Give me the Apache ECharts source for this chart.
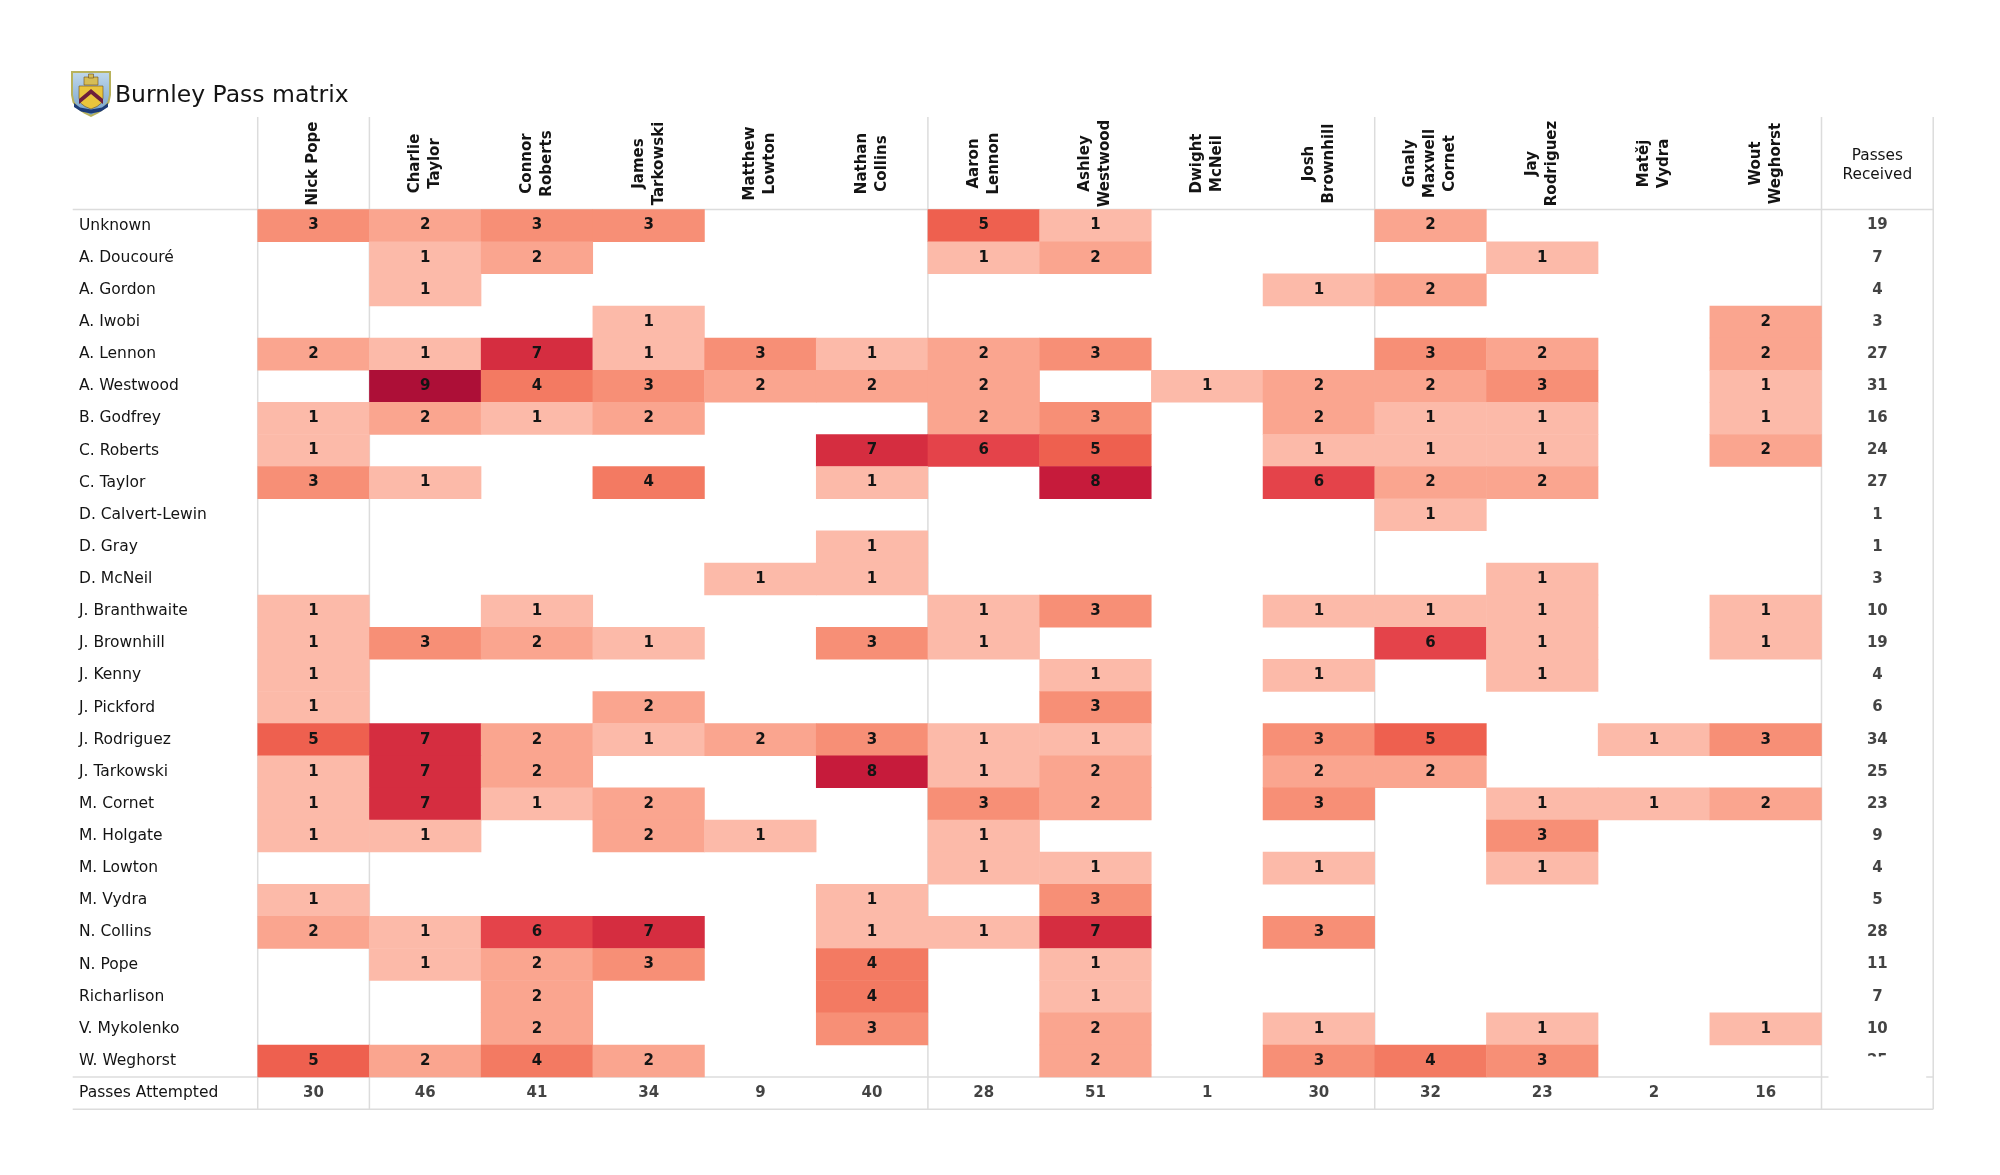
<!DOCTYPE html>
<html>
<head>
<meta charset="utf-8">
<script src="https://cdn.jsdelivr.net/npm/echarts@6/dist/echarts.min.js"></script>
<style>
html,body{margin:0;padding:0;background:#fff;}
#chart{width:2000px;height:1175px;}
</style>
</head>
<body>
<div id="chart"></div>
<script>
// ---------- data ----------
const receivers = ['Nick Pope','Charlie\nTaylor','Connor\nRoberts','James\nTarkowski','Matthew\nLowton','Nathan\nCollins','Aaron\nLennon','Ashley\nWestwood','Dwight\nMcNeil','Josh\nBrownhill','Gnaly\nMaxwell\nCornet','Jay\nRodriguez','Matěj\nVydra','Wout\nWeghorst'];
const receivedHeader = 'Passes\nReceived';
const passers = ['Unknown','A. Doucouré','A. Gordon','A. Iwobi','A. Lennon','A. Westwood','B. Godfrey','C. Roberts','C. Taylor','D. Calvert-Lewin','D. Gray','D. McNeil','J. Branthwaite','J. Brownhill','J. Kenny','J. Pickford','J. Rodriguez','J. Tarkowski','M. Cornet','M. Holgate','M. Lowton','M. Vydra','N. Collins','N. Pope','Richarlison','V. Mykolenko','W. Weghorst'];
const attemptedLabel = 'Passes Attempted';
// rows = passers, columns = receivers
const passCounts = [
  [3,2,3,3,0,0,5,1,0,0,2,0,0,0],
  [0,1,2,0,0,0,1,2,0,0,0,1,0,0],
  [0,1,0,0,0,0,0,0,0,1,2,0,0,0],
  [0,0,0,1,0,0,0,0,0,0,0,0,0,2],
  [2,1,7,1,3,1,2,3,0,0,3,2,0,2],
  [0,9,4,3,2,2,2,0,1,2,2,3,0,1],
  [1,2,1,2,0,0,2,3,0,2,1,1,0,1],
  [1,0,0,0,0,7,6,5,0,1,1,1,0,2],
  [3,1,0,4,0,1,0,8,0,6,2,2,0,0],
  [0,0,0,0,0,0,0,0,0,0,1,0,0,0],
  [0,0,0,0,0,1,0,0,0,0,0,0,0,0],
  [0,0,0,0,1,1,0,0,0,0,0,1,0,0],
  [1,0,1,0,0,0,1,3,0,1,1,1,0,1],
  [1,3,2,1,0,3,1,0,0,0,6,1,0,1],
  [1,0,0,0,0,0,0,1,0,1,0,1,0,0],
  [1,0,0,2,0,0,0,3,0,0,0,0,0,0],
  [5,7,2,1,2,3,1,1,0,3,5,0,1,3],
  [1,7,2,0,0,8,1,2,0,2,2,0,0,0],
  [1,7,1,2,0,0,3,2,0,3,0,1,1,2],
  [1,1,0,2,1,0,1,0,0,0,0,3,0,0],
  [0,0,0,0,0,0,1,1,0,1,0,1,0,0],
  [1,0,0,0,0,1,0,3,0,0,0,0,0,0],
  [2,1,6,7,0,1,1,7,0,3,0,0,0,0],
  [0,1,2,3,0,4,0,1,0,0,0,0,0,0],
  [0,0,2,0,0,4,0,1,0,0,0,0,0,0],
  [0,0,2,0,0,3,0,2,0,1,0,1,0,1],
  [5,2,4,2,0,0,0,2,0,3,4,3,0,0]
];
const passesReceived = [19,7,4,3,27,31,16,24,27,1,1,3,10,19,4,6,34,25,23,9,4,5,28,11,7,10,25];
const passesAttempted = [30,46,41,34,9,40,28,51,1,30,32,23,2,16];
const valueColors = ['#fcbaa9','#faa58f','#f78f76','#f37a62','#ee604f','#e4434a','#d52d40','#c61b3b','#ad0f37'];

// ---------- layout / style ----------
const FONT = 'DejaVu Sans';
const TEXT = '#141414';
const LINE = '#dcdcdc';
const GRID_LEFT = 257.7, GRID_TOP = 209.5, COL_W = 111.7, ROW_H = 32.13;
const HEADER_H = 92.5, LABEL_W = 185;
const V_BOUNDS = [0, 1, 6, 10, 14, 15];
const H_BOUNDS = [0, 27, 28];

const xCats = receivers.concat([receivedHeader]);
const yCats = passers.concat([attemptedLabel]);
const nCols = xCats.length, nRows = yCats.length;

const cellData = [];
passCounts.forEach((row, r) => row.forEach((v, c) => { if (v > 0) cellData.push([c, r, v]); }));
const totalData = [];
passesReceived.forEach((v, r) => totalData.push([receivers.length, r, v]));
passesAttempted.forEach((v, c) => totalData.push([c, passers.length, v]));

const chart = echarts.init(document.getElementById('chart'), null, {renderer: 'canvas'});
chart.setOption({
  backgroundColor: '#ffffff',
  animation: false,
  title: {
    text: 'Burnley Pass matrix', left: 115, top: 84, padding: 0,
    textStyle: {fontFamily: FONT, fontSize: 23.5, fontWeight: 'normal', color: TEXT}
  },
  grid: {left: GRID_LEFT, top: GRID_TOP, width: COL_W * nCols, height: ROW_H * nRows, containLabel: false, outerBoundsMode: 'none', show: false},
  xAxis: [{
    type: 'category', data: xCats, position: 'top', offset: 0,
    axisLine: {show: false}, axisTick: {show: false}, splitLine: {show: false},
    axisLabel: {
      interval: 0, rotate: -90, margin: 46, align: 'center', verticalAlign: 'middle',
      fontFamily: FONT, fontSize: 15, fontWeight: 'bold', color: TEXT, lineHeight: 20,
      formatter: v => (v === receivedHeader ? '' : v)
    }
  }, {
    type: 'category', data: xCats, position: 'top', offset: 0, gridIndex: 0,
    axisLine: {show: false}, axisTick: {show: false}, splitLine: {show: false},
    axisLabel: {
      interval: 0, rotate: 0, margin: 44, align: 'center', verticalAlign: 'middle',
      fontFamily: FONT, fontSize: 15.3, fontWeight: 'normal', color: TEXT, lineHeight: 19.5,
      formatter: v => (v === receivedHeader ? v : '')
    }
  }],
  yAxis: {
    type: 'category', data: yCats, inverse: true,
    axisLine: {show: false}, axisTick: {show: false}, splitLine: {show: false},
    axisLabel: {
      interval: 0, margin: GRID_LEFT - 79, align: 'left', verticalAlign: 'middle',
      fontFamily: FONT, fontSize: 15.5, color: TEXT
    }
  },
  visualMap: {
    type: 'piecewise', show: false, dimension: 2, seriesIndex: 1,
    pieces: valueColors.map((c, i) => ({value: i + 1, color: c}))
  },
  graphic: [{
    type: 'group', x: 70, y: 70, z: 100,
    children: [
      {type: 'polygon', shape: {points: [[2,2],[40,2],[40,25],[38.5,32],[34,38],[28,42.5],[21,46],[14,42.5],[8,38],[3.5,32],[2,25]]},
        style: {fill: {type: 'linear', x: 0, y: 0, x2: 0, y2: 1, colorStops: [{offset: 0, color: '#c2d9ec'}, {offset: 1, color: '#6f9fc9'}]}, stroke: '#b8b25c', lineWidth: 2}},
      {type: 'rect', shape: {x: 14, y: 7, width: 14, height: 8}, style: {fill: '#d6bd55', stroke: '#6b4d1f', lineWidth: 0.6}},
      {type: 'rect', shape: {x: 18.5, y: 4, width: 5, height: 4}, style: {fill: '#d6bd55', stroke: '#6b4d1f', lineWidth: 0.6}},
      {type: 'polygon', shape: {points: [[9,16],[33,16],[33,28],[31.5,33],[27,36.5],[21,39],[15,36.5],[10.5,33],[9,28]]}, style: {fill: '#eac53c', stroke: '#6b4d1f', lineWidth: 0.6}},
      {type: 'polygon', shape: {points: [[9,29],[21,19],[33,29],[33,34],[21,24],[9,34]]}, style: {fill: '#6e1e3c'}},
      {type: 'polygon', shape: {points: [[4,33],[10,37.5],[21,39.5],[32,37.5],[38,33],[38,37],[31,41.5],[21,43.5],[11,41.5],[4,37]]}, style: {fill: '#1d3c78'}}
    ]
  }],
  series: [{
    type: 'custom', name: 'rules', coordinateSystem: 'cartesian2d', z: 1, silent: true, clip: false,
    data: [[0, 0]],
    renderItem: (params, api) => {
      const cell = api.size([1, 1]);
      const first = api.coord([0, 0]);
      const left = first[0] - cell[0] / 2, top = first[1] - cell[1] / 2;
      const children = [];
      V_BOUNDS.forEach(b => {
        const x = left + b * cell[0];
        children.push({type: 'line', shape: {x1: x, y1: top - HEADER_H, x2: x, y2: top + nRows * cell[1]}, style: {stroke: LINE, lineWidth: 1.5}});
      });
      H_BOUNDS.forEach(b => {
        const y = top + b * cell[1];
        children.push({type: 'line', shape: {x1: left - LABEL_W, y1: y, x2: left + nCols * cell[0], y2: y}, style: {stroke: LINE, lineWidth: 1.5}});
      });
      return {type: 'group', children};
    }
  }, {
    type: 'heatmap', name: 'passes', data: cellData, z: 2,
    itemStyle: {borderWidth: 0},
    label: {show: true, formatter: p => p.value[2], fontFamily: FONT, fontSize: 15, fontWeight: 'bold', color: TEXT},
    emphasis: {disabled: true}
  }, {
    type: 'scatter', name: 'totals', data: totalData, z: 3, symbol: 'rect', symbolSize: 1,
    itemStyle: {color: 'rgba(255,255,255,0)'},
    label: {show: true, position: 'inside', formatter: p => p.value[2], fontFamily: FONT, fontSize: 15, fontWeight: 'bold', color: TEXT},
    emphasis: {disabled: true}
  }, {
    type: 'custom', name: 'cut', coordinateSystem: 'cartesian2d', z: 6, silent: true, clip: false,
    data: [[receivers.length, passers.length - 1]],
    renderItem: (params, api) => {
      const cell = api.size([1, 1]);
      const c = api.coord([api.value(0), api.value(1)]);
      return {type: 'rect', shape: {x: c[0] - cell[0] / 2 + 7, y: c[1] - 4.5, width: cell[0] - 14, height: cell[1] / 2 + 8}, style: {fill: '#ffffff'}};
    }
  }]
});
</script>
</body>
</html>
